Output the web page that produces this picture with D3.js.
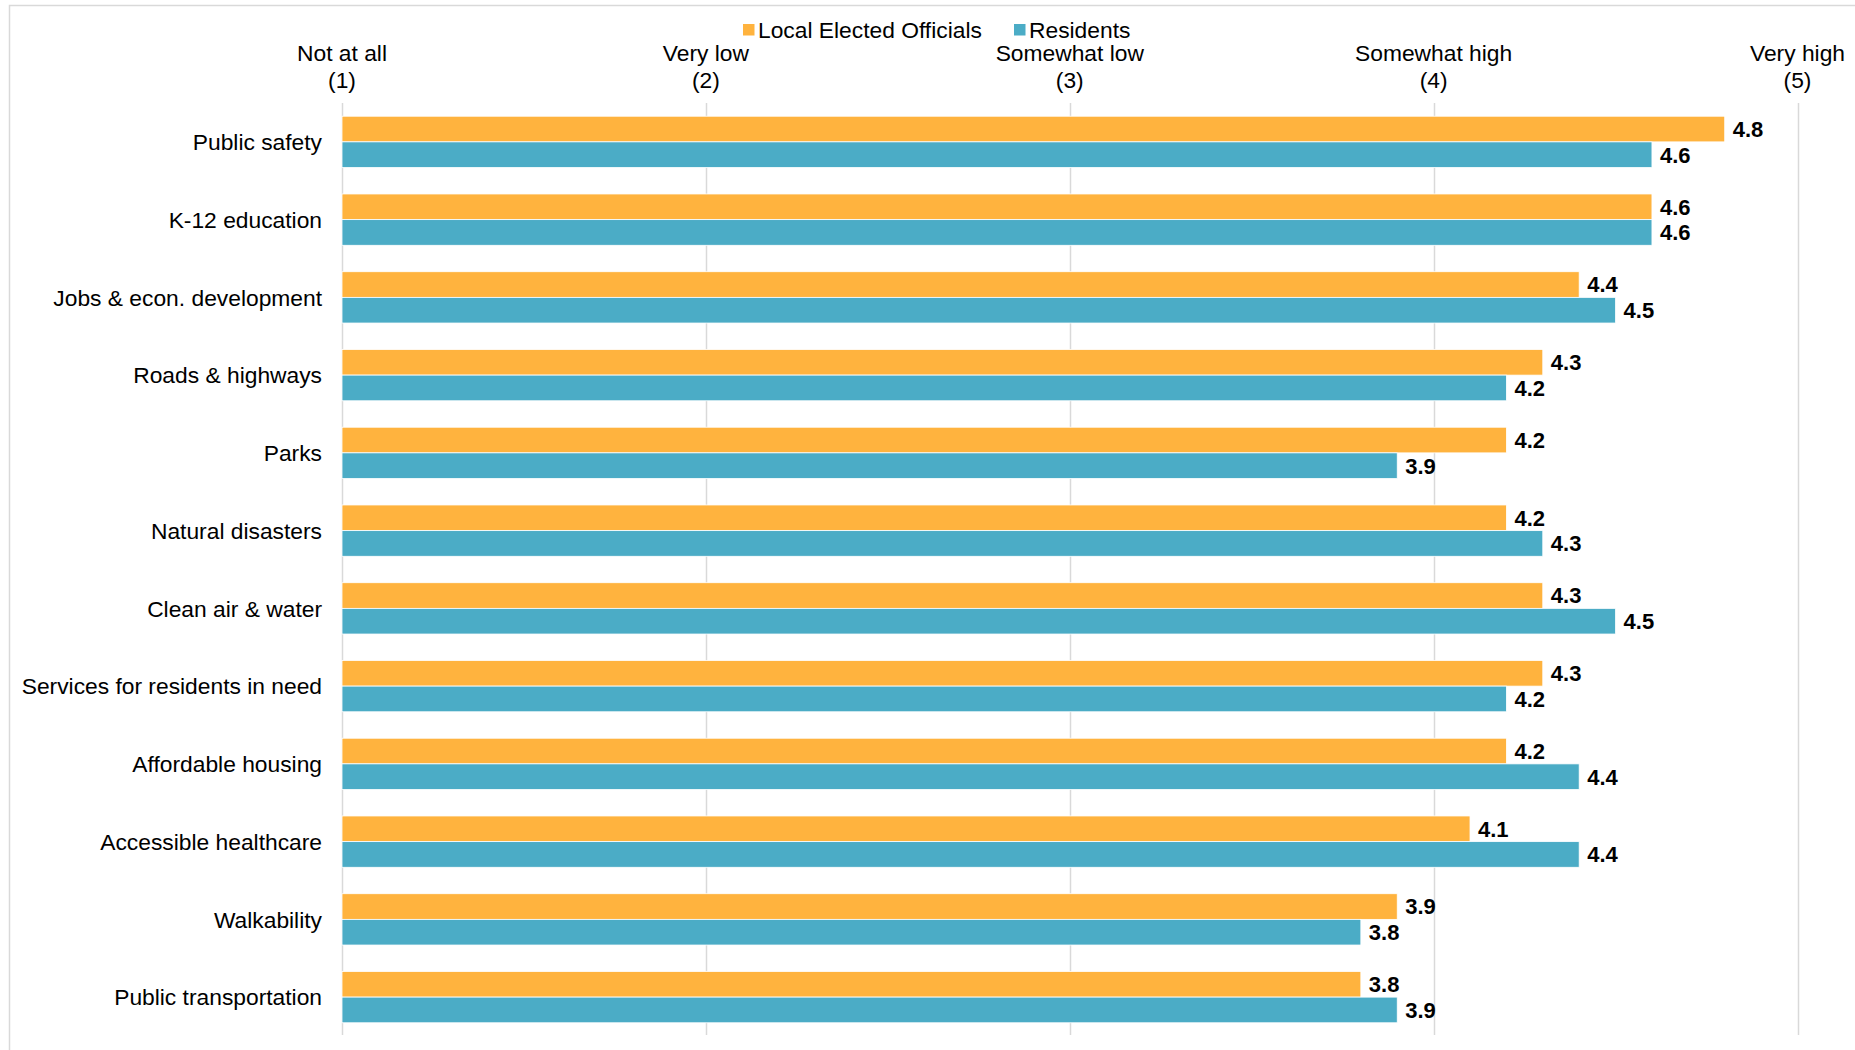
<!DOCTYPE html>
<html>
<head>
<meta charset="utf-8">
<script src="https://cdn.jsdelivr.net/npm/d3@7"></script>
<style>
  html, body { margin: 0; padding: 0; background: #fff; }
  svg { display: block; font-family: "Liberation Sans", Arial, Helvetica, sans-serif; }
</style>
</head>
<body>
<svg id="chart" width="1855" height="1050"></svg>
<script>
const categories = [
  "Public safety", "K-12 education", "Jobs & econ. development", "Roads & highways",
  "Parks", "Natural disasters", "Clean air & water", "Services for residents in need",
  "Affordable housing", "Accessible healthcare", "Walkability", "Public transportation"
];
const officials = [4.8, 4.6, 4.4, 4.3, 4.2, 4.2, 4.3, 4.3, 4.2, 4.1, 3.9, 3.8];
const residents = [4.6, 4.6, 4.5, 4.2, 3.9, 4.3, 4.5, 4.2, 4.4, 4.4, 3.8, 3.9];
const seriesNames = ["Local Elected Officials", "Residents"];
const tickValues = [1, 2, 3, 4, 5];
const tickLabels = [["Not at all", "(1)"], ["Very low", "(2)"], ["Somewhat low", "(3)"], ["Somewhat high", "(4)"], ["Very high", "(5)"]];

const colors = ["#FFB33E", "#4BACC6"];
const svg = d3.select("#chart");
const W = 1855, H = 1050;

// outer frame
svg.append("rect").attr("x", 9.5).attr("y", 5.5).attr("width", W + 20).attr("height", H + 20)
  .attr("fill", "none").attr("stroke", "#d9d9d9").attr("stroke-width", 1.5);

const x = d3.scaleLinear().domain([1, 5]).range([342, 1797.5]);
const y = d3.scaleBand().domain(categories).range([103, 1036]).paddingInner(0.34).paddingOuter(0.17);
const sub = d3.scaleBand().domain([0, 1]).range([0, y.bandwidth()]);

// gridlines
svg.append("g").selectAll("line").data(tickValues).join("line")
  .attr("x1", d => Math.round(x(d)) + 0.5).attr("x2", d => Math.round(x(d)) + 0.5)
  .attr("y1", 103).attr("y2", 1035)
  .attr("stroke", "#d9d9d9").attr("stroke-width", 1.5);

// top tick labels
const tl = svg.append("g").selectAll("text").data(tickValues).join("text")
  .attr("x", d => x(d)).attr("text-anchor", "middle")
  .attr("font-size", 22.8).attr("fill", "#000");
tl.append("tspan").attr("x", d => x(d)).attr("y", 61).text((d, i) => tickLabels[i][0]);
tl.append("tspan").attr("x", d => x(d)).attr("y", 88).text((d, i) => tickLabels[i][1]);

// bars
const series = [officials, residents];
series.forEach((vals, s) => {
  const g = svg.append("g");
  g.selectAll("rect").data(categories).join("rect")
    .attr("x", x(1))
    .attr("y", d => y(d) + sub(s))
    .attr("width", (d, i) => x(vals[i]) - x(1))
    .attr("height", sub.bandwidth())
    .attr("fill", colors[s])
    .attr("stroke", "#fff").attr("stroke-width", 0.8);
  g.selectAll("text").data(categories).join("text")
    .attr("x", (d, i) => x(vals[i]) + 8)
    .attr("y", d => y(d) + sub(s) + sub.bandwidth() / 2)
    .attr("dy", "0.36em")
    .attr("font-size", 22).attr("font-weight", "bold").attr("fill", "#000")
    .text((d, i) => vals[i].toFixed(1));
});

// category labels
svg.append("g").selectAll("text").data(categories).join("text")
  .attr("x", 322).attr("y", d => y(d) + y.bandwidth() / 2)
  .attr("dy", "0.36em").attr("text-anchor", "end")
  .attr("font-size", 22.8).attr("fill", "#000")
  .text(d => d);

// legend
const legendX = [743, 1014];
const lg = svg.append("g").selectAll("g").data(seriesNames).join("g")
  .attr("transform", (d, i) => `translate(${legendX[i]},0)`);
lg.append("rect").attr("x", 0).attr("y", 24).attr("width", 11.5).attr("height", 11.5)
  .attr("fill", (d, i) => colors[i]);
lg.append("text").attr("x", 15).attr("y", 37.5).attr("font-size", 22.8).attr("fill", "#000")
  .text(d => d);
</script>
</body>
</html>
